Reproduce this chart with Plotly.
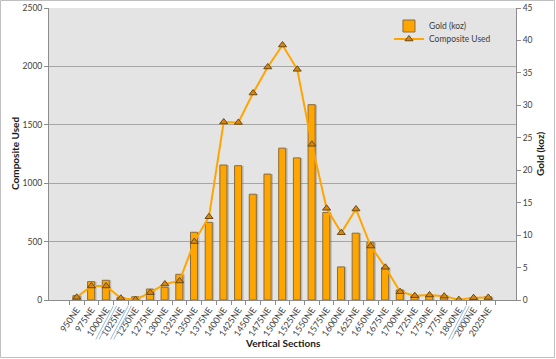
import plotly.graph_objects as go

sections = ["950NE", "975NE", "1000NE", "1025NE", "1250NE", "1275NE", "1300NE", "1325NE",
            "1350NE", "1375NE", "1400NE", "1425NE", "1450NE", "1475NE", "1500NE", "1525NE",
            "1550NE", "1575NE", "1600NE", "1625NE", "1650NE", "1675NE", "1700NE", "1725NE",
            "1750NE", "1775NE", "1800NE", "2000NE", "2025NE"]

gold_koz = [0.67, 2.83, 3.04, 0.41, 0.5, 1.69, 1.96, 3.96, 10.44, 11.97, 20.8, 20.7, 16.3,
            19.4, 23.4, 21.9, 30.1, 13.5, 5.1, 10.3, 8.9, 5.0, 1.55, 0.67, 0.77, 0.67, 0.14,
            0.36, 0.5]

composite_used = [23, 120, 120, 15, 3, 63, 137, 163, 500, 713, 1524, 1520, 1772, 1995, 2183,
                  1975, 1333, 785, 576, 779, 462, 280, 71, 37, 43, 33, 3, 20, 22]

# axis breaks sit between these category indices (boundary after index)
break_after = [2, 3, 26]

FONT = "Lato"
TXT = "#404040"
W, H = 556, 359
ML, MR, MT, MB = 49, 40, 8, 59
PW, PH = W - ML - MR, H - MT - MB

fig = go.Figure()

# shadow of bars
fig.add_trace(go.Bar(x=sections, y=gold_koz, width=0.48, offset=-0.13,
                     marker=dict(color="rgba(90,90,90,0.30)", line=dict(width=0)),
                     showlegend=False, hoverinfo="skip", yaxis="y"))
fig.add_trace(go.Bar(x=sections, y=gold_koz, name="Gold (koz)", width=0.48, offset=-0.26,
                     marker=dict(color="#FFA500", line=dict(color="#8a6d3b", width=1)),
                     yaxis="y", legend="legend"))
fig.add_trace(go.Scatter(x=sections, y=composite_used, name="Composite Used", mode="lines+markers",
                         line=dict(color="#FFA500", width=2),
                         marker=dict(symbol="triangle-up", size=7, color="#D9860E",
                                     line=dict(color="#6b4a10", width=1)),
                         yaxis="y2", legend="legend2"))

shapes = []
for b in break_after:
    for dx in (0.0, 0.22):
        shapes.append(dict(type="line", xref="x", yref="paper",
                           x0=b + 0.5 + dx, y0=-0.02, x1=b + 0.5 + dx - 1.2, y1=-0.135,
                           line=dict(color="#9fb8d8", width=1)))
# outer chart border
shapes.append(dict(type="rect", xref="paper", yref="paper",
                   x0=-(ML - 0.5) / PW, x1=1 + (MR - 1.5) / PW,
                   y0=-(MB - 1.5) / PH, y1=1 + (MT - 0.5) / PH,
                   line=dict(color="#bfbfbf", width=1), fillcolor="rgba(0,0,0,0)", layer="below"))

title_font = dict(family=FONT, size=10, color="#1a1a1a")
annotations = [
    dict(text="<b>Vertical Sections</b>", xref="paper", yref="paper", x=0.5, y=-43 / PH,
         showarrow=False, xanchor="center", yanchor="middle", font=dict(family=FONT, size=10, color="#1a1a1a")),
    dict(text="<b>Composite Used</b>", xref="paper", yref="paper", x=-(ML - 15) / PW, y=0.5,
         showarrow=False, textangle=-90, xanchor="center", yanchor="middle", font=title_font),
    dict(text="<b>Gold (koz)</b>", xref="paper", yref="paper", x=1 + (540 - ML - PW) / PW, y=0.5,
         showarrow=False, textangle=-90, xanchor="center", yanchor="middle", font=title_font),
]

legend_common = dict(x=0.728, xanchor="left", yanchor="middle", bgcolor="rgba(0,0,0,0)",
                     font=dict(family=FONT, size=8.5, color=TXT), itemwidth=30)

fig.update_layout(
    width=W, height=H,
    margin=dict(l=ML, r=MR, t=MT, b=MB, autoexpand=False),
    paper_bgcolor="white", plot_bgcolor="#e4e4e4",
    barmode="overlay", showlegend=True,
    font=dict(family=FONT, size=8.5, color=TXT),
    legend=dict(y=(PH - 18) / PH, **legend_common),
    legend2=dict(y=(PH - 31) / PH, **legend_common),
    xaxis=dict(type="category", tickangle=-56, tickson="boundaries", ticks="outside", ticklen=4,
               tickcolor="#8c8c8c", showline=True, linecolor="#8c8c8c", showgrid=False,
               tickfont=dict(size=9, color=TXT), automargin=False),
    yaxis=dict(side="right", range=[0, 45], dtick=5, showgrid=False, ticks="outside", ticklen=4,
               tickcolor="#8c8c8c", showline=True, linecolor="#8c8c8c", zeroline=False,
               tickfont=dict(size=8.5, color=TXT), automargin=False),
    yaxis2=dict(side="left", overlaying="y", range=[0, 2500], dtick=500, showgrid=True,
                gridcolor="#a6a6a6", gridwidth=1, ticks="outside", ticklen=4, tickcolor="#8c8c8c",
                showline=True, linecolor="#8c8c8c", zeroline=False,
                tickfont=dict(size=8.5, color=TXT), automargin=False),
    shapes=shapes,
    annotations=annotations,
)

fig.write_html("out.html", config={"displayModeBar": False},
               post_script="document.body.style.margin='0';")
